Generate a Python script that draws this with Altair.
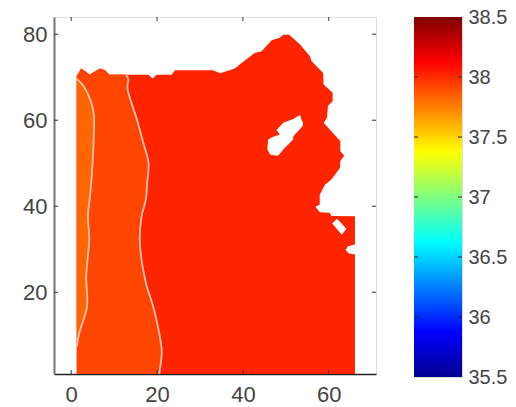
import altair as alt
import pandas as pd

# top outline of the region, left part (x, y)
top_x = [1.3, 2.3, 3.3, 4.3, 5.6, 6.7, 7.9, 8.9, 12.8, 18, 19, 19.9, 23.4, 24.2, 33, 34.7, 38.1, 39.7, 42.8, 44.3, 46.7, 48.6, 49.4, 50]
top_y = [70.2, 72, 71.4, 70.6, 71.4, 72, 71.6, 70.6, 70.6, 70.6, 69.7, 70.6, 70.6, 71.6, 71.6, 70.9, 72, 73.3, 75.7, 76, 78.6, 79.2, 79.9, 79.9]
# right outline of the region (y, x)
right_y = [79.9, 77.6, 74.9, 73.7, 71, 68.3, 66.4, 64.4, 63.3, 60.6, 59.4, 55.1, 52.8, 51.8, 50.5, 48.9, 46.2, 45, 42.7, 40.4, 39.9, 38.6, 38.5, 37.75, 37.7, 31.1, 30.7, 29.9, 29, 28.8, 1]
right_x = [50.8, 53.3, 55.6, 56, 58.7, 58.8, 60.9, 60.9, 59.8, 59.6, 58.8, 62.7, 62.7, 63.6, 62.7, 62.6, 60.6, 59.1, 57.9, 57.9, 56.9, 57.9, 60.2, 60.6, 66.1, 66.1, 64.5, 63.9, 64.7, 66.1, 66.1]
# contour lines (y, x)
c2_y = [70.6, 69.5, 67.5, 60.2, 54.7, 50.1, 45.4, 41.6, 37.7, 31.5, 22.2, 16.7, 8.2, 5.9, 1]
c2_x = [12.8, 13.3, 13.1, 15.3, 16.8, 18, 17.7, 17.4, 16.4, 16, 17.4, 19.1, 20.9, 21.1, 20.5]
c1_y = [69.6, 67.9, 63.7, 60.9, 54.7, 47, 41.6, 37.7, 32.3, 23.7, 16.7, 10.6, 7.4]
c1_x = [1.3, 2.9, 4.8, 5.3, 5.2, 4.8, 4.3, 3.9, 4.2, 3.5, 3.7, 1.9, 1.3]
# holes (y, left x, right x)
h1_y = [61.2, 60.3, 59.4, 58.8, 57.7, 56.7, 56.1, 55.5, 53.6, 53.2, 52, 51.8]
h1_l = [53.3, 51.7, 49.4, 48.8, 47.8, 48.6, 46.9, 45.9, 45.7, 45.7, 46.4, 47.4]
h1_r = [53.3, 53.6, 54, 54, 53.1, 52.1, 51.7, 51.7, 49.8, 49.4, 48.4, 48.2]
h2_y = [37.1, 36, 34.7, 33.4]
h2_l = [61.9, 60.8, 61.9, 63]
h2_r = [61.9, 63, 64.1, 63]

x_ticks = [0, 20, 40, 60]
y_ticks = [20, 40, 60, 80]
cb_ticks = [35.5, 36, 36.5, 37, 37.5, 38, 38.5]
cb_inner = [36, 36.5, 37, 37.5, 38]
jet_colors = ["#00008F", "#0000FF", "#00FFFF", "#FFFF00", "#FF0000", "#800000"]
jet_stops = [0, 0.125, 0.375, 0.625, 0.875, 1]

RED, BAND, STRIP, LINE = "#FF2400", "#FF4500", "#FF6600", "#FBC4B8"
FONT, TXT = "Liberation Sans", "#444444"
W, H = 322, 357
xs = alt.Scale(domain=[-4, 71], nice=False, zero=False)
ys = alt.Scale(domain=[1, 84], nice=False, zero=False)


def harea(yv, left, right, color, curve="linear"):
    df = pd.DataFrame({"y": yv, "l": left, "r": right})
    return alt.Chart(df).mark_area(orient="horizontal", color=color, interpolate=curve).encode(
        y=alt.Y("y:Q", scale=ys, title=None), x=alt.X("l:Q", scale=xs, title=None), x2="r:Q")


def vline(yv, xv):
    df = pd.DataFrame({"y": yv, "x": xv, "o": range(len(yv))})
    return alt.Chart(df).mark_line(color=LINE, strokeWidth=1.8, interpolate="catmull-rom").encode(
        x=alt.X("x:Q", scale=xs, title=None), y=alt.Y("y:Q", scale=ys, title=None), order="o:Q")


body_df = pd.DataFrame({"x": top_x, "y": top_y, "b": [1] * len(top_x)})
body = alt.Chart(body_df).mark_area(color=RED).encode(
    x=alt.X("x:Q", scale=xs, title=None,
            axis=alt.Axis(values=x_ticks, tickSize=0, grid=False, labelFont=FONT, labelFontSize=22,
                          labelColor=TXT, labelPadding=10, domainColor="#222222", domainWidth=1.5)),
    y=alt.Y("y:Q", scale=ys, title=None,
            axis=alt.Axis(values=y_ticks, tickSize=0, grid=False, labelFont=FONT, labelFontSize=22,
                          labelColor=TXT, labelPadding=7, domainColor="#777777", domainWidth=2)),
    y2="b:Q")
n_band = 9
bump_df = pd.DataFrame({"x": top_x[:n_band], "y": top_y[:n_band], "b": [69] * n_band})
bumps = alt.Chart(bump_df).mark_area(color=BAND).encode(
    x=alt.X("x:Q", scale=xs, title=None), y=alt.Y("y:Q", scale=ys, title=None), y2="b:Q")

right = harea(right_y, [49.8] * len(right_y), right_x, RED)
band = harea(c2_y, [1.3] * len(c2_y), c2_x, BAND, "catmull-rom")
strip = harea(c1_y, [1.3] * len(c1_y), c1_x, STRIP, "catmull-rom")
hole1 = harea(h1_y, h1_l, h1_r, "white")
hole2 = harea(h2_y, h2_l, h2_r, "white")

xt = pd.DataFrame({"t": x_ticks})
yt = pd.DataFrame({"t": y_ticks})
tick_style = dict(color="#333333", strokeWidth=1)
ticks = [
    alt.Chart(xt).mark_rule(**tick_style).encode(x=alt.X("t:Q", scale=xs), y=alt.value(H), y2=alt.value(H - 4)),
    alt.Chart(xt).mark_rule(**tick_style).encode(x=alt.X("t:Q", scale=xs), y=alt.value(0), y2=alt.value(4)),
    alt.Chart(yt).mark_rule(**tick_style).encode(y=alt.Y("t:Q", scale=ys), x=alt.value(0), x2=alt.value(4)),
    alt.Chart(yt).mark_rule(**tick_style).encode(y=alt.Y("t:Q", scale=ys), x=alt.value(W), x2=alt.value(W - 4)),
]

main = alt.layer(body, right, band, bumps, strip, vline(c2_y, c2_x), vline(c1_y, c1_x), hole1, hole2, *ticks).properties(width=W, height=H)

cs = alt.Scale(domain=[35.5, 38.5], nice=False, zero=False)
grad = alt.LinearGradient(gradient="linear", x1=0, x2=0, y1=1, y2=0,
                          stops=[alt.GradientStop(color=c, offset=o) for c, o in zip(jet_colors, jet_stops)])
cb_df = pd.DataFrame({"a": [0], "b": [1], "lo": [35.5], "hi": [38.5]})
bar = alt.Chart(cb_df).mark_rect(color=grad).encode(
    x=alt.X("a:Q", scale=alt.Scale(domain=[0, 1]), axis=None),
    x2="b:Q",
    y=alt.Y("lo:Q", scale=cs, title=None,
            axis=alt.Axis(orient="right", values=cb_ticks, tickSize=0, grid=False, domain=False, labelFont=FONT, format="~g",
                          labelFontSize=20, labelColor=TXT, labelPadding=6, labelOverlap=False, labelBound=False)),
    y2="hi:Q")
cb_t = pd.DataFrame({"t": cb_inner})
cb_l = alt.Chart(cb_t).mark_rule(color="#222222").encode(y=alt.Y("t:Q", scale=cs), x=alt.value(0), x2=alt.value(4))
cb_r = alt.Chart(cb_t).mark_rule(color="#222222").encode(y=alt.Y("t:Q", scale=cs), x=alt.value(48), x2=alt.value(44))
cbar = alt.layer(bar, cb_l, cb_r).properties(width=48, height=360)

chart = alt.hconcat(main, cbar, spacing=36).properties(
    padding={"left": 14, "top": -2, "right": 0, "bottom": 0}
).configure_view(stroke="#666666", strokeWidth=1.5).configure(background="white")
chart.save("out.html", embed_options={"renderer": "svg", "actions": False})
